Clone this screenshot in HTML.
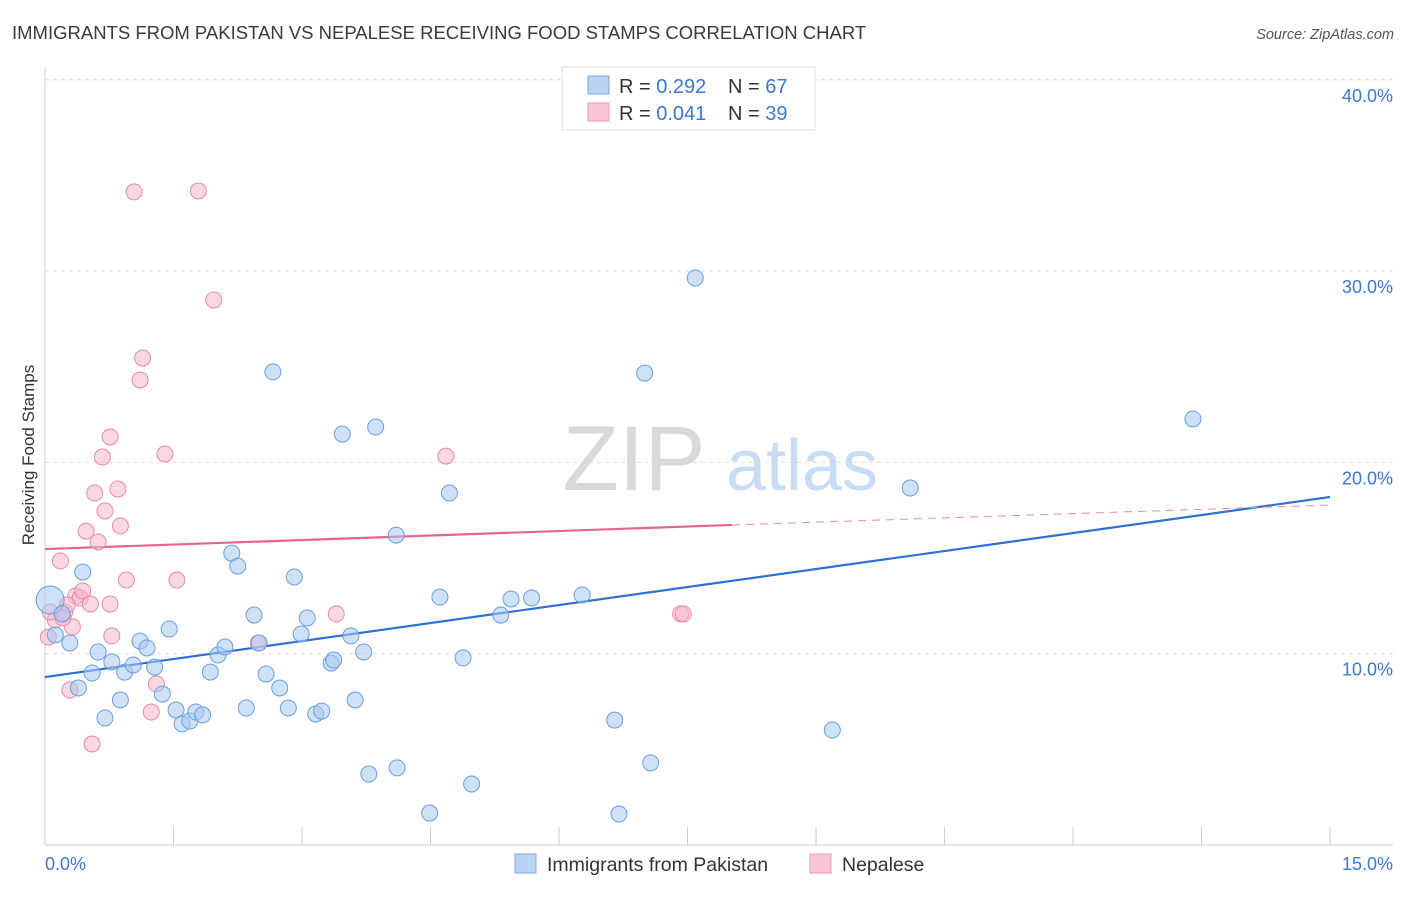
<!DOCTYPE html>
<html><head><meta charset="utf-8"><style>
body{margin:0;background:#fff;font-family:"Liberation Sans",sans-serif;}
svg text{font-family:"Liberation Sans",sans-serif;}
</style></head><body>
<svg id="chart" width="1406" height="892" xmlns="http://www.w3.org/2000/svg">
<text x="12" y="39" font-size="18.5" fill="#3a3a3a">IMMIGRANTS FROM PAKISTAN VS NEPALESE RECEIVING FOOD STAMPS CORRELATION CHART</text>
<text x="1394" y="39" font-size="14.5" font-style="italic" fill="#555" text-anchor="end">Source: ZipAtlas.com</text>
<g>
<text x="634" y="490" font-size="92" font-family="Liberation Serif,serif" fill="#d9d9d9" text-anchor="middle">ZIP</text>
<text x="802" y="490" font-size="72" fill="#c9dcf3" text-anchor="middle">atlas</text>
</g>
<g id="grid"></g>
<g id="axes"></g>
<g id="trend"></g>
<g id="points"></g>
<text transform="translate(34,455) rotate(-90)" font-size="17" fill="#333" text-anchor="middle">Receiving Food Stamps</text>
<g>
<rect x="562" y="67" width="253" height="63" fill="#fff" stroke="#ddd"/>
<rect x="588" y="76" width="21" height="18" fill="#b9d3f3" stroke="#7aa8e6"/>
<rect x="588" y="103" width="21" height="18" fill="#f8c5d4" stroke="#ec9ab6"/>
<text x="619" y="93" font-size="20" fill="#333">R = <tspan fill="#3b78d4">0.292</tspan></text>
<text x="728" y="93" font-size="20" fill="#333">N = <tspan fill="#3b78d4">67</tspan></text>
<text x="619" y="120" font-size="20" fill="#333">R = <tspan fill="#3b78d4">0.041</tspan></text>
<text x="728" y="120" font-size="20" fill="#333">N = <tspan fill="#3b78d4">39</tspan></text>
</g>
<g>
<rect x="515" y="854" width="21" height="19" fill="#b9d3f3" stroke="#7aa8e6"/>
<text x="547" y="871" font-size="19.5" fill="#333">Immigrants from Pakistan</text>
<rect x="810" y="854" width="21" height="19" fill="#f8c5d4" stroke="#ec9ab6"/>
<text x="842" y="871" font-size="19.5" fill="#333">Nepalese</text>
</g>
</svg>
<script>
const yTicks=[10,20,30,40];
const yTickLabels=["10.0%","20.0%","30.0%","40.0%"];
const xTicks=[0,1.5,3,4.5,6,7.5,9,10.5,12,13.5,15];
const blueX=[0.06,0.12,0.29,0.44,0.39,0.55,0.62,0.70,0.78,0.88,0.93,1.03,1.11,1.19,1.28,1.37,1.45,1.53,1.60,1.69,1.76,1.84,1.93,2.02,2.10,2.18,2.25,2.35,2.44,2.50,2.58,2.66,2.74,2.84,2.91,2.99,3.06,3.16,3.23,3.34,3.37,3.47,3.57,3.62,3.72,3.78,3.86,4.10,4.11,4.49,4.61,4.72,4.88,4.98,5.32,5.44,5.68,6.27,6.65,6.70,7.00,7.07,7.59,9.19,10.10,13.40,0.20];
const blueY=[12.81,10.98,10.56,14.27,8.21,8.99,10.09,6.64,9.57,7.58,9.04,9.41,10.66,10.30,9.30,7.89,11.29,7.06,6.33,6.48,6.95,6.80,9.04,9.93,10.35,15.26,14.58,7.16,12.02,10.56,8.94,24.73,8.21,7.16,14.01,11.03,11.87,6.85,7.00,9.51,9.67,21.48,10.93,7.58,10.09,3.71,21.85,16.20,4.03,1.67,12.96,18.40,9.78,3.19,12.02,12.86,12.91,13.07,6.53,1.62,24.67,4.29,29.64,6.01,18.66,22.27,12.08];
const pinkX=[0.04,0.12,0.18,0.23,0.29,0.32,0.36,0.41,0.44,0.48,0.53,0.55,0.58,0.62,0.67,0.70,0.76,0.78,0.85,0.88,0.95,1.04,1.11,1.14,1.24,1.30,1.40,1.54,1.79,1.97,2.49,3.40,4.68,7.42,7.45,0.76,0.06,0.26,0.21];
const pinkY=[10.87,11.76,14.85,12.18,8.10,11.40,13.02,12.91,13.28,16.41,12.60,5.28,18.40,15.84,20.28,17.46,21.33,10.93,18.61,16.68,13.85,34.14,24.31,25.46,6.95,8.42,20.44,13.85,34.19,28.49,10.56,12.08,20.33,12.08,12.08,12.60,12.18,12.55,11.87];
const blueTrend=[8.78,18.19];
const pinkTrend=[15.47,16.73,17.77];
const pinkSolidEnd=8.02;
const NS="http://www.w3.org/2000/svg";
const X=v=>45+v*85.67, Y=v=>845-v*19.13;
function mk(tag,attrs,parent){const e=document.createElementNS(NS,tag);for(const k in attrs)e.setAttribute(k,attrs[k]);parent.appendChild(e);return e;}
const gridG=document.getElementById('grid'),axesG=document.getElementById('axes'),trendG=document.getElementById('trend'),ptsG=document.getElementById('points');
yTicks.forEach((t,i)=>{
 const l=mk('line',{x1:45,x2:1393,y1:Y(t),y2:Y(t),stroke:'#ddd','stroke-dasharray':'4,4'},gridG);
 
 
 const tx=mk('text',{x:1393,y:Y(t)+22,'font-size':18,fill:'#3b78d4','text-anchor':'end'},gridG);
 tx.textContent=yTickLabels[i];
 
 
});
const topGrid=mk('line',{x1:45,x2:1393,y1:Y(40),y2:Y(40),stroke:'#ddd','stroke-dasharray':'4,4'},gridG);


const la=mk('line',{x1:45,x2:45,y1:68,y2:845,stroke:'#ccc'},axesG);


const ba=mk('line',{x1:45,x2:1393,y1:845,y2:845,stroke:'#ccc'},axesG);


xTicks.forEach(t=>{
 const l=mk('line',{x1:X(t),x2:X(t),y1:827,y2:845,stroke:'#ccc'},axesG);
 
 
});
const xl0=mk('text',{x:45,y:870,'font-size':18,fill:'#3b78d4'},axesG);xl0.textContent='0.0%';


const xl1=mk('text',{x:1393,y:870,'font-size':18,fill:'#3b78d4','text-anchor':'end'},axesG);xl1.textContent='15.0%';


function circ(x,y,r,fill,stroke,name){const c=mk('circle',{cx:X(x),cy:Y(y),r:r,fill:fill,'fill-opacity':0.55,stroke:stroke,'stroke-width':1},ptsG);
 
 }
pinkX.forEach((x,i)=>circ(x,pinkY[i],8,'#f5b8cb','#e889a8','nepalese-point'));
blueX.forEach((x,i)=>circ(x,blueY[i],i===0?14:8,'#a8c8f0','#6a9fe0','pakistan-point'));
const bt=mk('line',{x1:X(0),y1:Y(blueTrend[0]),x2:X(15),y2:Y(blueTrend[1]),stroke:'#2f6fd6','stroke-width':2.2},trendG);


const pt=mk('line',{x1:X(0),y1:Y(pinkTrend[0]),x2:X(pinkSolidEnd),y2:Y(pinkTrend[1]),stroke:'#e5648f','stroke-width':2.2},trendG);


const pd=mk('line',{x1:X(pinkSolidEnd),y1:Y(pinkTrend[1]),x2:X(15),y2:Y(pinkTrend[2]),stroke:'#e889a8','stroke-width':1,'stroke-dasharray':'8,6'},trendG);


</script>
</body></html>
